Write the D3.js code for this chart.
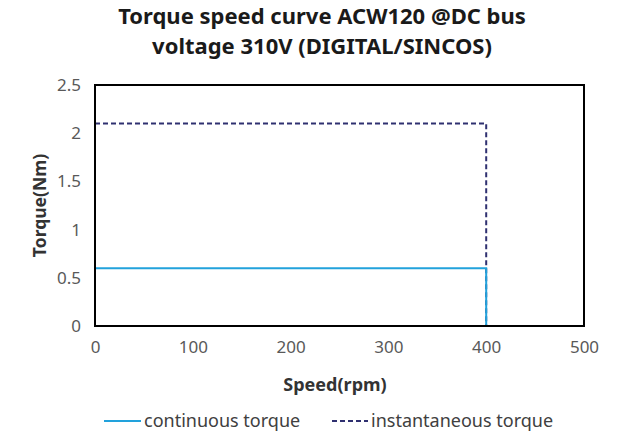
<!DOCTYPE html>
<head>
  <meta charset='utf-8'>
  <script src='https://d3js.org/d3.v7.min.js'></script>
  <style>
    body { margin: 0; background: #fff; }
    text { font-family: 'Noto Sans', 'Open Sans', sans-serif; }
  </style>
</head>
<body>
<script>
const speeds = [0, 400, 400];
const continuous = [0.6, 0.6, 0];
const instantaneous = [2.1, 2.1, 0];
const xTicks = [0, 100, 200, 300, 400, 500];
const yTicks = [0, 0.5, 1, 1.5, 2, 2.5];
const seriesNames = ['continuous torque', 'instantaneous torque'];

const width = 633, height = 439;
const margin = {top: 85, right: 49, bottom: 113, left: 95};
const font = "'Noto Sans', 'Open Sans', sans-serif";

const svg = d3.select('body').append('svg').attr('width', width).attr('height', height);

const x = d3.scaleLinear().domain([0, 500]).range([margin.left, width - margin.right]);
const y = d3.scaleLinear().domain([0, 2.5]).range([height - margin.bottom, margin.top]);

// title
svg.append('text').attr('x', 322).attr('y', 24).attr('text-anchor', 'middle')
  .attr('font-size', 22).attr('font-weight', 'bold').attr('fill', '#1a1a1a')
  .text('Torque speed curve ACW120 @DC bus');
svg.append('text').attr('x', 322).attr('y', 54).attr('text-anchor', 'middle')
  .attr('font-size', 22).attr('font-weight', 'bold').attr('fill', '#1a1a1a')
  .text('voltage 310V (DIGITAL/SINCOS)');

// tick labels
svg.append('g').attr('transform', `translate(0,${y(0)})`)
  .call(d3.axisBottom(x).tickValues(xTicks).tickSize(0).tickPadding(15))
  .call(g => g.select('.domain').remove())
  .selectAll('text').attr('font-size', 17).attr('fill', '#595959').style('font-family', font);

svg.append('g').attr('transform', `translate(${x(0) - 14},0)`)
  .call(d3.axisLeft(y).tickValues(yTicks).tickSize(0).tickPadding(0).tickFormat(d3.format('')))
  .call(g => g.select('.domain').remove())
  .selectAll('text').attr('font-size', 17).attr('fill', '#595959').style('font-family', font);

// axis titles
svg.append('text').attr('x', 335).attr('y', 391).attr('text-anchor', 'middle')
  .attr('font-size', 18).attr('font-weight', 'bold').attr('fill', '#333').text('Speed(rpm)');
svg.append('text').attr('transform', `translate(46,${(y(0) + y(2.5)) / 2}) rotate(-90)`)
  .attr('text-anchor', 'middle').attr('font-size', 17.5).attr('font-weight', 'bold')
  .attr('fill', '#333').text('Torque(Nm)');

const line = d3.line().x(d => x(d[0])).y(d => y(d[1]));

svg.append('path').datum(d3.zip(speeds, instantaneous)).attr('d', line)
  .attr('fill', 'none').attr('stroke', '#2f3070').attr('stroke-width', 2)
  .attr('stroke-dasharray', '5,3');

svg.append('path').datum(d3.zip(speeds, continuous)).attr('d', line)
  .attr('fill', 'none').attr('stroke', '#22a2dc').attr('stroke-width', 2);

// frame
svg.append('rect').attr('x', x(0)).attr('y', y(2.5))
  .attr('width', x(500) - x(0)).attr('height', y(0) - y(2.5))
  .attr('fill', 'none').attr('stroke', '#000').attr('stroke-width', 2);

// legend
const legend = svg.append('g').attr('transform', 'translate(0,421)');
legend.append('line').attr('x1', 104).attr('x2', 141).attr('y1', 0).attr('y2', 0)
  .attr('stroke', '#22a2dc').attr('stroke-width', 2);
legend.append('text').attr('x', 144).attr('y', 6).attr('font-size', 18).attr('fill', '#404040').text(seriesNames[0]);
legend.append('line').attr('x1', 332).attr('x2', 368).attr('y1', 0).attr('y2', 0)
  .attr('stroke', '#2f3070').attr('stroke-width', 2).attr('stroke-dasharray', '5,3');
legend.append('text').attr('x', 371).attr('y', 6).attr('font-size', 18).attr('fill', '#404040').text(seriesNames[1]);
</script>
</body>
